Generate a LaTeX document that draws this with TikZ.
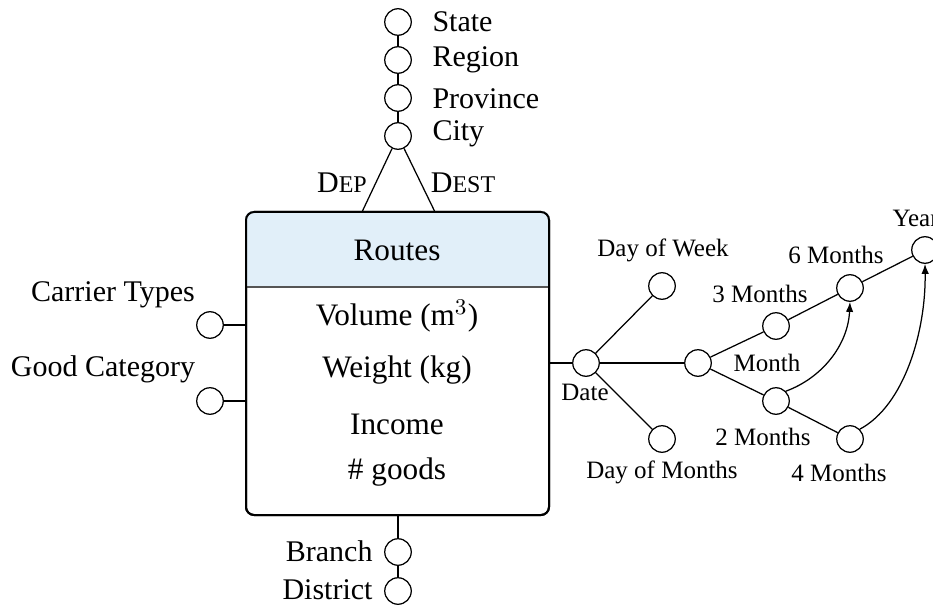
\documentclass[tikz,border=0pt]{standalone}
\usepackage{fontspec}
\setmainfont{Liberation Serif}
\usetikzlibrary{arrows.meta}
\definecolor{headblue}{HTML}{E1EFF9}
\definecolor{rulegray}{HTML}{555555}
\newcommand\fakesc[2]{#1{\fontsize{9.6}{11}\selectfont #2}}
\begin{document}
\begin{tikzpicture}[x=0.4pt,y=-0.4pt,
  ent/.style={circle,draw,minimum size=10.6pt,inner sep=0pt,line width=0.5pt},
  lbl/.style={font=\fontsize{12}{14}\selectfont,inner sep=0pt},
  boxlbl/.style={font=\fontsize{12.5}{14}\selectfont,inner sep=0pt},
  slbl/.style={font=\fontsize{10}{12}\selectfont,inner sep=0pt},
  conn/.style={line width=0.5pt},
  arr/.style={line width=0.5pt,-{Latex[length=4pt,width=3pt]}}]
\useasboundingbox (0,0) rectangle (933,606);
% main box
\node[draw,line width=0.8pt,rounded corners=3.2pt,minimum width=121.2pt,minimum height=121.2pt,inner sep=0pt] (box) at (397.5,363.5) {};
\begin{scope}
  \clip[rounded corners=3.2pt] (box.north west) rectangle (box.south east);
  \fill[headblue] (box.north west) rectangle ([yshift=-30.4pt]box.north east);
\end{scope}
\draw[rulegray,line width=0.6pt] ([yshift=-30.4pt]box.north west) -- ([yshift=-30.4pt]box.north east);
\node[draw,line width=0.8pt,rounded corners=3.2pt,minimum width=121.2pt,minimum height=121.2pt,inner sep=0pt] at (397.5,363.5) {};
\node[boxlbl] (routes) at (397,250) {Routes};
\node[boxlbl] (vol) at (397,316) {Volume (m$^3$)};
\node[boxlbl] (wt) at (397,370) {Weight (kg)};
\node[boxlbl] (inc) at (397,424) {Income};
\node[boxlbl] (goods) at (397,472) {\# goods};
% geography hierarchy
\node[ent] (state) at (398,22) {};
\node[ent] (region) at (398,60) {};
\node[ent] (province) at (398,98) {};
\node[ent] (city) at (398,136) {};
\node[lbl,anchor=west] (lstate) at (432,22) {State};
\node[lbl,anchor=west] (lregion) at (432,60) {Region};
\node[lbl,anchor=west] (lprovince) at (432,99) {Province};
\node[lbl,anchor=west] (lcity) at (432,134) {City};
\draw[conn] (state) -- (region);
\draw[conn] (region) -- (province);
\draw[conn] (province) -- (city);
\coordinate (dp) at (362,212);
\coordinate (ds) at (435,212);
\draw[conn] (city) -- (dp);
\draw[conn] (city) -- (ds);
\node[lbl] (ldep) at (342,183) {\fakesc{D}{EP}};
\node[lbl] (ldest) at (463,183) {\fakesc{D}{EST}};
% left attributes
\node[ent] (carrier) at (210,325) {};
\node[ent] (goodcat) at (210,401) {};
\node[lbl] (lcarrier) at (113,295) {Carrier Types};
\node[lbl] (lgoodcat) at (103,369) {Good Category};
\draw[conn] (carrier) -- (carrier -| box.west);
\draw[conn] (goodcat) -- (goodcat -| box.west);
% bottom
\node[ent] (branch) at (398,552) {};
\node[ent] (district) at (398,591) {};
\node[lbl,anchor=east] (lbranch) at (373,551) {Branch};
\node[lbl,anchor=east] (ldistrict) at (373,590) {District};
\draw[conn] (box.south -| branch) -- (branch);
\draw[conn] (branch) -- (district);
% date hierarchy
\node[ent] (date) at (586,363) {};
\node[ent] (dow) at (662,286) {};
\node[ent] (dom) at (662,439) {};
\node[ent] (month) at (698,363) {};
\node[ent] (m3) at (776,326) {};
\node[ent] (m2) at (776,401) {};
\node[ent] (m6) at (850,288) {};
\node[ent] (m4) at (850,439) {};
\node[ent] (year) at (925,250) {};
\node[slbl] (ldate) at (585,392) {Date};
\node[slbl] (ldow) at (663,250) {Day of Week};
\node[slbl] (ldom) at (662,472) {Day of Months};
\node[slbl] (lmonth) at (767,363) {Month};
\node[slbl] (lm3) at (760,294) {3 Months};
\node[slbl] (lm2) at (763,437) {2 Months};
\node[slbl] (lm6) at (836,255) {6 Months};
\node[slbl,anchor=west] (lyear) at (892,218) {Year};
\node[slbl] (lm4) at (839,473) {4 Months};
\draw[conn] (box.east |- date) -- (date);
\draw[conn] (date) -- (dow);
\draw[conn] (date) -- (dom);
\draw[conn] (date) -- (month);
\draw[conn] (month) -- (m3);
\draw[conn] (month) -- (m2);
\draw[conn] (m3) -- (m6);
\draw[conn] (m2) -- (m4);
\draw[conn] (m6) -- (year);
\draw[arr] (m2.north east) .. controls (822,378) and (848,345) .. (m6.south);
\draw[arr] (m4.north east) .. controls (905,405) and (926,330) .. (year.south);
\end{tikzpicture}
\end{document}
